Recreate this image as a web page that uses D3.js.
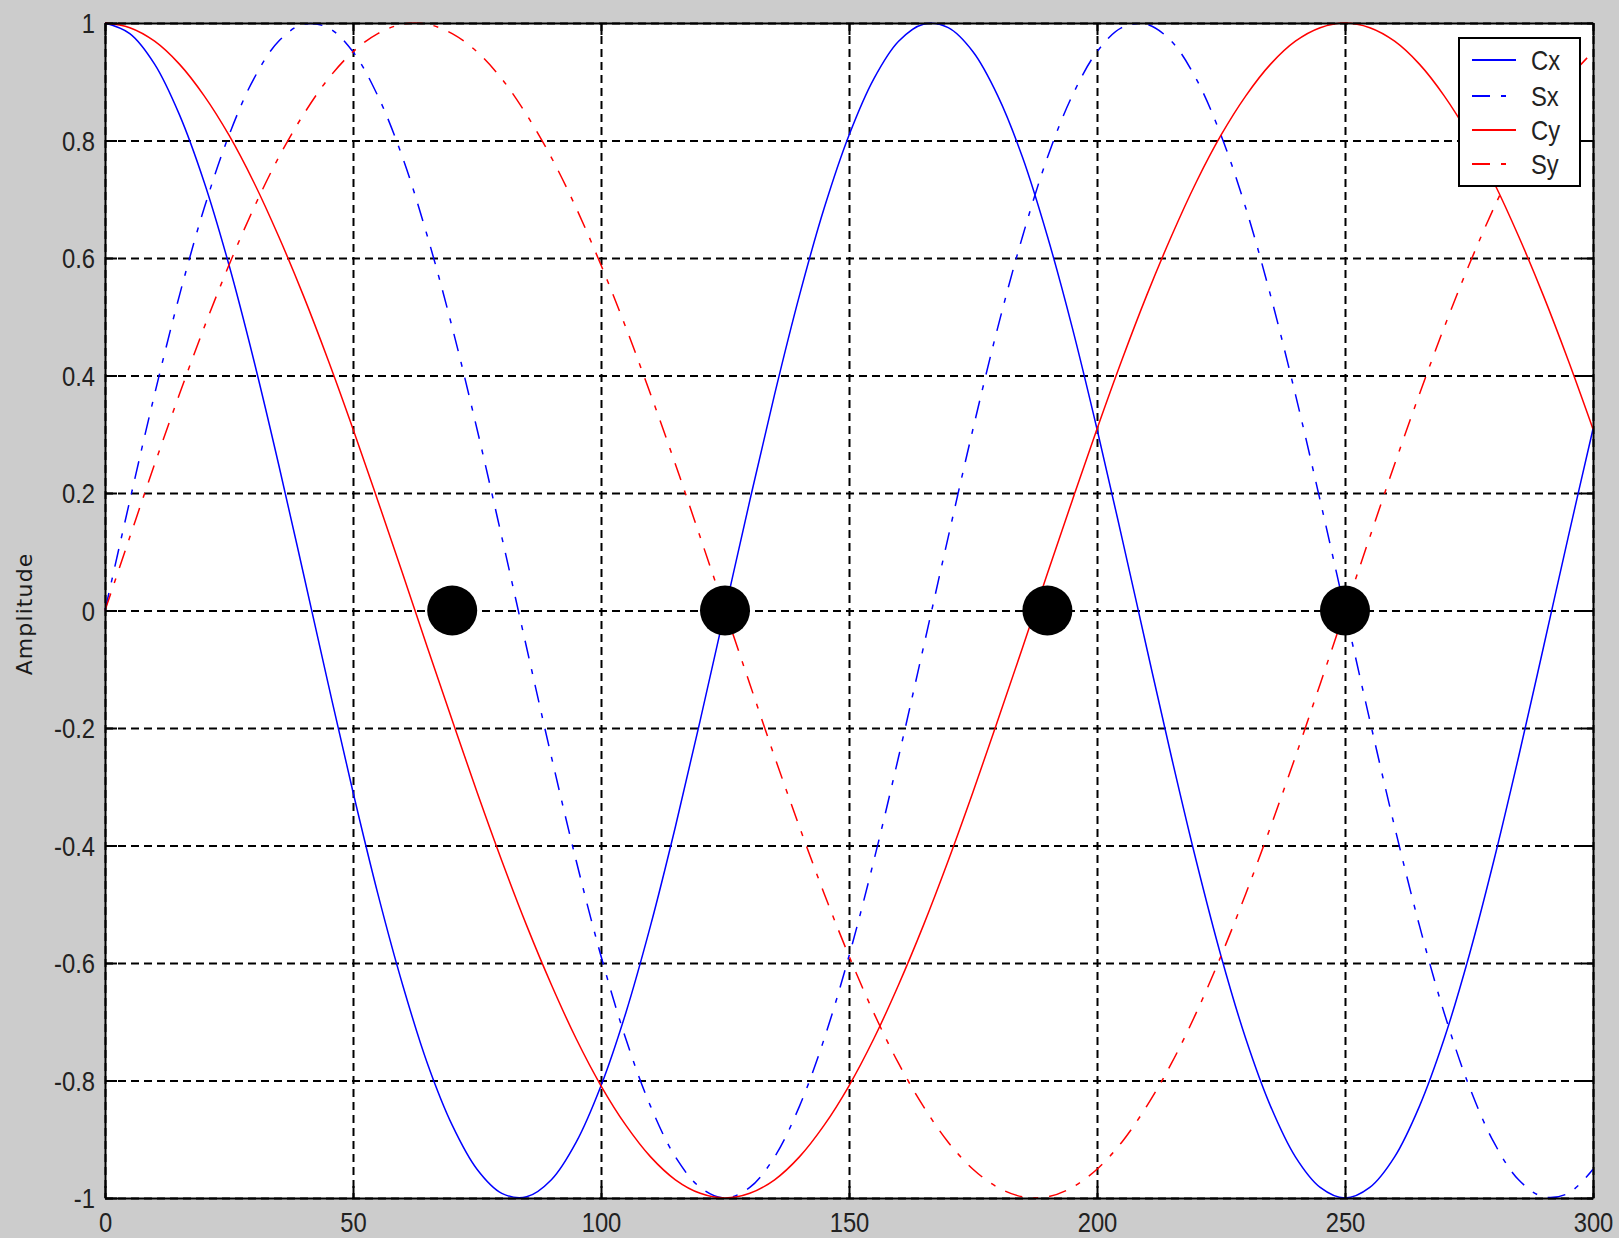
<!DOCTYPE html>
<html>
<head>
<meta charset="utf-8">
<script src="https://cdn.jsdelivr.net/npm/d3@7"></script>
<style>
  html, body { margin: 0; padding: 0; background: #cccccc; }
  svg { display: block; }
  .tick-label { font-family: "Liberation Sans", Arial, sans-serif; font-size: 28px; fill: #222222; }
</style>
</head>
<body>
<svg id="chart" width="1619" height="1238"></svg>
<script>
// ---- data ----
const xSamples = [0,5,10,15,20,25,30,35,40,45,50,55,60,65,70,75,80,85,90,95,100,105,110,115,120,125,130,135,140,145,150,155,160,165,170,175,180,185,190,195,200,205,210,215,220,225,230,235,240,245,250,255,260,265,270,275,280,285,290,295,300];

const cxValues = [1.000,0.982,0.930,0.844,0.729,0.588,0.426,0.249,0.063,-0.125,
  -0.309,-0.482,-0.637,-0.771,-0.876,-0.951,-0.992,-0.998,-0.969,-0.905,
  -0.809,-0.685,-0.536,-0.368,-0.187,0.000,0.187,0.368,0.536,0.685,
  0.809,0.905,0.969,0.998,0.992,0.951,0.876,0.771,0.637,0.482,
  0.309,0.125,-0.063,-0.249,-0.426,-0.588,-0.729,-0.844,-0.930,-0.982,
  -1.000,-0.982,-0.930,-0.844,-0.729,-0.588,-0.426,-0.249,-0.063,0.125,
  0.309];

const sxValues = [0.000,0.187,0.368,0.536,0.685,0.809,0.905,0.969,0.998,0.992,
  0.951,0.876,0.771,0.637,0.482,0.309,0.125,-0.063,-0.249,-0.426,
  -0.588,-0.729,-0.844,-0.930,-0.982,-1.000,-0.982,-0.930,-0.844,-0.729,
  -0.588,-0.426,-0.249,-0.063,0.125,0.309,0.482,0.637,0.771,0.876,
  0.951,0.992,0.998,0.969,0.905,0.809,0.685,0.536,0.368,0.187,
  0.000,-0.187,-0.368,-0.536,-0.685,-0.809,-0.905,-0.969,-0.998,-0.992,
  -0.951];

const cyValues = [1.000,0.992,0.969,0.930,0.876,0.809,0.729,0.637,0.536,0.426,
  0.309,0.187,0.063,-0.063,-0.187,-0.309,-0.426,-0.536,-0.637,-0.729,
  -0.809,-0.876,-0.930,-0.969,-0.992,-1.000,-0.992,-0.969,-0.930,-0.876,
  -0.809,-0.729,-0.637,-0.536,-0.426,-0.309,-0.187,-0.063,0.063,0.187,
  0.309,0.426,0.536,0.637,0.729,0.809,0.876,0.930,0.969,0.992,
  1.000,0.992,0.969,0.930,0.876,0.809,0.729,0.637,0.536,0.426,
  0.309];

const syValues = [0.000,0.125,0.249,0.368,0.482,0.588,0.685,0.771,0.844,0.905,
  0.951,0.982,0.998,0.998,0.982,0.951,0.905,0.844,0.771,0.685,
  0.588,0.482,0.368,0.249,0.125,0.000,-0.125,-0.249,-0.368,-0.482,
  -0.588,-0.685,-0.771,-0.844,-0.905,-0.951,-0.982,-0.998,-0.998,-0.982,
  -0.951,-0.905,-0.844,-0.771,-0.685,-0.588,-0.482,-0.368,-0.249,-0.125,
  0.000,0.125,0.249,0.368,0.482,0.588,0.685,0.771,0.844,0.905,
  0.951];

const seriesNames = ["Cx", "Sx", "Cy", "Sy"];
const seriesColors = ["#0000ff", "#0000ff", "#ff0000", "#ff0000"];
const seriesDashed = [false, true, false, true];

const markerX = [70, 125, 190, 250];
const markerY = [0, 0, 0, 0];

const xTicks = [0, 50, 100, 150, 200, 250, 300];
const xTickLabels = ["0", "50", "100", "150", "200", "250", "300"];
const yTicks = [-1, -0.8, -0.6, -0.4, -0.2, 0, 0.2, 0.4, 0.6, 0.8, 1];
const yTickLabels = ["-1", "-0.8", "-0.6", "-0.4", "-0.2", "0", "0.2", "0.4", "0.6", "0.8", "1"];
const yLabel = "Amplitude";

// ---- layout ----
const svg = d3.select("#chart");
const W = 1619, H = 1238;
const m = { left: 105, top: 23, right: 1593, bottom: 1198 };
const pw = m.right - m.left, ph = m.bottom - m.top;
const squeeze = 0.85; // narrow look of the original bitmap font

svg.append("rect").attr("width", W).attr("height", H).attr("fill", "#cccccc");

const x = d3.scaleLinear().domain([0, 300]).range([0, pw]);
const y = d3.scaleLinear().domain([-1, 1]).range([ph, 0]);

const g = svg.append("g").attr("transform", `translate(${m.left},${m.top})`);

g.append("rect").attr("width", pw).attr("height", ph).attr("fill", "#ffffff");

svg.append("defs").append("clipPath").attr("id", "plotclip")
  .append("rect").attr("x", -1).attr("y", -1).attr("width", pw + 2).attr("height", ph + 2);

// grid
const gridDash = "8,5";
const gx = g.append("g").attr("class", "grid-x")
  .call(d3.axisBottom(x).tickValues(xTicks).tickSize(ph).tickFormat(""));
gx.select(".domain").remove();
gx.selectAll("line").attr("stroke", "#000").attr("stroke-width", 2).attr("stroke-dasharray", gridDash);

const gy = g.append("g").attr("class", "grid-y")
  .call(d3.axisRight(y).tickValues(yTicks).tickSize(pw).tickFormat(""));
gy.select(".domain").remove();
gy.selectAll("line").attr("stroke", "#000").attr("stroke-width", 2).attr("stroke-dasharray", gridDash);

// curves
const allSeries = [cxValues, sxValues, cyValues, syValues];
const line = d3.line()
  .x(d => x(d[0]))
  .y(d => y(d[1]))
  .curve(d3.curveCatmullRom.alpha(0.5));

const curves = g.append("g").attr("clip-path", "url(#plotclip)");
allSeries.forEach((vals, i) => {
  const pts = xSamples.map((xv, j) => [xv, vals[j]]);
  curves.append("path")
    .datum(pts)
    .attr("d", line)
    .attr("fill", "none")
    .attr("stroke", seriesColors[i])
    .attr("stroke-width", 1.5)
    .attr("stroke-dasharray", seriesDashed[i] ? "18,11,5,11" : null);
});

// markers
g.append("g").selectAll("circle")
  .data(markerX.map((xv, i) => [xv, markerY[i]]))
  .join("circle")
  .attr("cx", d => x(d[0]))
  .attr("cy", d => y(d[1]))
  .attr("r", 25)
  .attr("fill", "#000");

// axes with inward ticks
const tickLen = 12;
const axB = g.append("g").attr("transform", `translate(0,${ph})`)
  .call(d3.axisBottom(x).tickValues(xTicks).tickSizeInner(-tickLen).tickSizeOuter(0)
    .tickPadding(14).tickFormat((d, i) => xTickLabels[i]));
const axT = g.append("g")
  .call(d3.axisTop(x).tickValues(xTicks).tickSizeInner(-tickLen).tickSizeOuter(0).tickFormat(""));
const axL = g.append("g")
  .call(d3.axisLeft(y).tickValues(yTicks).tickSizeInner(-tickLen).tickSizeOuter(0)
    .tickPadding(11).tickFormat((d, i) => yTickLabels[i]));
const axR = g.append("g").attr("transform", `translate(${pw},0)`)
  .call(d3.axisRight(y).tickValues(yTicks).tickSizeInner(-tickLen).tickSizeOuter(0).tickFormat(""));

[axB, axT, axL, axR].forEach(a => {
  a.select(".domain").attr("stroke", "#000").attr("stroke-width", 2);
  a.selectAll(".tick line").attr("stroke", "#000").attr("stroke-width", 2);
  a.selectAll(".tick text").attr("class", "tick-label").attr("font-size", null).attr("font-family", null).attr("fill", null);
});
axB.selectAll(".tick text").attr("dy", "0.72em").attr("transform", `scale(${squeeze},1)`);
axL.selectAll(".tick text").attr("dy", "0.35em")
  .attr("x", -10 / squeeze).attr("transform", `scale(${squeeze},1)`);

// y label
svg.append("text")
  .attr("transform", `translate(32,614) rotate(-90)`)
  .attr("text-anchor", "middle")
  .attr("font-family", "'DejaVu Sans', Verdana, sans-serif")
  .attr("font-size", 22)
  .attr("letter-spacing", 1.1)
  .attr("fill", "#1a1a1a")
  .text(yLabel);

// legend
const lg = svg.append("g").attr("transform", "translate(1459,38)");
lg.append("rect").attr("width", 121).attr("height", 148)
  .attr("fill", "#ffffff").attr("stroke", "#000").attr("stroke-width", 2);
const rowY = [22, 58, 92, 126];
seriesNames.forEach((name, i) => {
  lg.append("line")
    .attr("x1", 13).attr("x2", 57)
    .attr("y1", rowY[i]).attr("y2", rowY[i])
    .attr("stroke", seriesColors[i]).attr("stroke-width", 2)
    .attr("stroke-dasharray", seriesDashed[i] ? "18,11,5,11" : null);
  lg.append("text")
    .attr("class", "tick-label")
    .attr("transform", `scale(${squeeze},1)`)
    .attr("x", 72 / squeeze).attr("y", rowY[i]).attr("dy", "0.35em")
    .text(name);
});
</script>
</body>
</html>
